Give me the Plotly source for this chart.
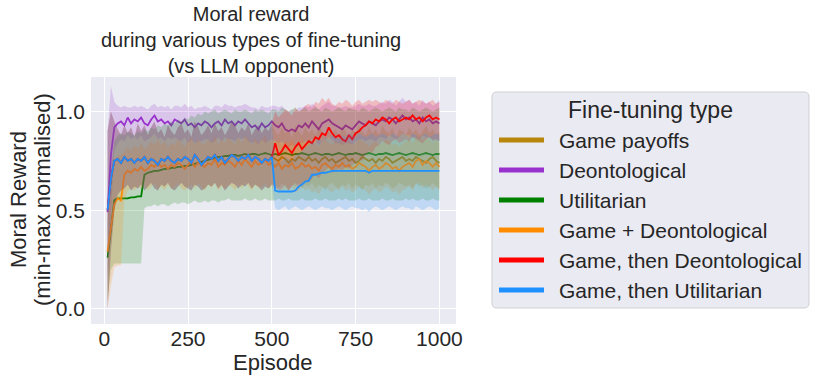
import plotly.graph_objects as go

# episode grid (every 10 episodes)
episodes = list(range(10, 1001, 10))

# first 500 episodes: game-payoff training, shared by the three game-based runs
game_phase_mean = [0.50, 0.66, 0.75, 0.76, 0.74, 0.77, 0.75, 0.76, 0.74, 0.76,
                   0.75, 0.77, 0.74, 0.76, 0.75, 0.73, 0.76, 0.75, 0.77, 0.75,
                   0.74, 0.76, 0.75, 0.77, 0.76, 0.74, 0.78, 0.76, 0.73, 0.75,
                   0.77, 0.76, 0.78, 0.75, 0.77, 0.74, 0.76, 0.78, 0.77, 0.75,
                   0.77, 0.76, 0.78, 0.75, 0.77, 0.76, 0.74, 0.76, 0.75, 0.77]
game_phase_lo = [0.00, 0.30, 0.50, 0.58, 0.60, 0.61, 0.63, 0.60, 0.62, 0.61,
                 0.63, 0.60, 0.62, 0.64, 0.61, 0.60, 0.63, 0.62, 0.64, 0.61,
                 0.60, 0.62, 0.64, 0.62, 0.61, 0.60, 0.63, 0.62, 0.60, 0.61,
                 0.63, 0.62, 0.64, 0.61, 0.63, 0.60, 0.62, 0.64, 0.63, 0.61,
                 0.63, 0.62, 0.64, 0.61, 0.63, 0.62, 0.60, 0.62, 0.61, 0.63]
game_phase_hi = [0.90, 1.00, 0.95, 0.91, 0.88, 0.93, 0.89, 0.92, 0.87, 0.94,
                 0.90, 0.93, 0.88, 0.92, 0.95, 0.89, 0.91, 0.87, 0.93, 0.90,
                 0.88, 0.92, 0.94, 0.89, 0.91, 0.87, 0.95, 0.92, 0.88, 0.90,
                 0.93, 0.89, 0.94, 0.90, 0.92, 0.88, 0.91, 0.95, 0.93, 0.89,
                 0.92, 0.90, 0.94, 0.88, 0.91, 0.93, 0.89, 0.92, 0.90, 0.94]

# episodes 510-1000 for each game-based run
payoffs_mean2 = [0.76, 0.75, 0.77, 0.76, 0.74, 0.76, 0.75, 0.77, 0.76, 0.75,
                 0.77, 0.75, 0.76, 0.74, 0.76, 0.77, 0.75, 0.76, 0.74, 0.75,
                 0.76, 0.77, 0.75, 0.76, 0.74, 0.75, 0.77, 0.76, 0.75, 0.76,
                 0.74, 0.76, 0.75, 0.77, 0.76, 0.74, 0.75, 0.76, 0.77, 0.75,
                 0.76, 0.75, 0.77, 0.76, 0.75, 0.74, 0.76, 0.77, 0.75, 0.74]
payoffs_lo2 = [0.63, 0.61, 0.64, 0.62, 0.60, 0.63, 0.62, 0.64, 0.61, 0.63,
               0.62, 0.64, 0.61, 0.63, 0.62, 0.60, 0.63, 0.64, 0.62, 0.61,
               0.63, 0.62, 0.64, 0.61, 0.63, 0.62, 0.60, 0.63, 0.62, 0.64,
               0.61, 0.63, 0.62, 0.64, 0.63, 0.61, 0.62, 0.64, 0.63, 0.62,
               0.63, 0.61, 0.64, 0.62, 0.63, 0.61, 0.62, 0.64, 0.62, 0.61]
payoffs_hi2 = [0.90, 0.88, 0.92, 0.89, 0.91, 0.87, 0.93, 0.90, 0.88, 0.92,
               0.89, 0.91, 0.88, 0.93, 0.90, 0.87, 0.92, 0.89, 0.91, 0.88,
               0.92, 0.90, 0.87, 0.91, 0.89, 0.93, 0.90, 0.88, 0.92, 0.89,
               0.91, 0.88, 0.93, 0.90, 0.89, 0.92, 0.87, 0.91, 0.90, 0.88,
               0.92, 0.89, 0.91, 0.88, 0.90, 0.93, 0.89, 0.91, 0.88, 0.90]

then_deont_mean2 = [0.84, 0.78, 0.80, 0.83, 0.81, 0.79, 0.82, 0.84, 0.81, 0.83,
                    0.85, 0.84, 0.87, 0.86, 0.89, 0.88, 0.92, 0.89, 0.87, 0.88,
                    0.86, 0.85, 0.88, 0.86, 0.89, 0.90, 0.92, 0.93, 0.95, 0.94,
                    0.96, 0.95, 0.97, 0.96, 0.94, 0.96, 0.97, 0.95, 0.96, 0.97,
                    0.96, 0.98, 0.96, 0.97, 0.95, 0.97, 0.98, 0.96, 0.97, 0.96]
then_deont_lo2 = [0.62, 0.60, 0.61, 0.63, 0.60, 0.62, 0.64, 0.61, 0.63, 0.65,
                  0.64, 0.66, 0.68, 0.66, 0.69, 0.70, 0.72, 0.69, 0.70, 0.71,
                  0.70, 0.72, 0.71, 0.73, 0.74, 0.76, 0.75, 0.78, 0.80, 0.79,
                  0.82, 0.83, 0.85, 0.84, 0.83, 0.85, 0.86, 0.84, 0.85, 0.86,
                  0.85, 0.87, 0.86, 0.85, 0.84, 0.86, 0.87, 0.85, 0.86, 0.85]
then_deont_hi2 = [1.00, 0.97, 0.99, 1.01, 1.00, 0.98, 1.02, 1.00, 1.01, 1.03,
                  1.04, 1.02, 1.05, 1.04, 1.07, 1.05, 1.07, 1.04, 1.03, 1.05,
                  1.04, 1.06, 1.05, 1.03, 1.05, 1.06, 1.04, 1.05, 1.06, 1.05,
                  1.06, 1.05, 1.04, 1.06, 1.05, 1.04, 1.06, 1.05, 1.04, 1.05,
                  1.06, 1.04, 1.05, 1.06, 1.05, 1.04, 1.05, 1.06, 1.04, 1.05]

then_util_mean2 = [0.60, 0.595, 0.595, 0.595, 0.595, 0.595, 0.60, 0.62, 0.63, 0.645,
                   0.65, 0.68, 0.68, 0.685, 0.69, 0.69, 0.695, 0.70, 0.70, 0.70,
                   0.70, 0.70, 0.70, 0.70, 0.70, 0.70, 0.70, 0.70, 0.69, 0.70,
                   0.70, 0.70, 0.70, 0.70, 0.70, 0.70, 0.70, 0.70, 0.70, 0.70,
                   0.70, 0.70, 0.70, 0.70, 0.70, 0.70, 0.70, 0.70, 0.70, 0.70]
then_util_lo2 = [0.51, 0.50, 0.51, 0.52, 0.50, 0.51, 0.52, 0.51, 0.50, 0.51,
                 0.52, 0.51, 0.50, 0.51, 0.52, 0.51, 0.51, 0.50, 0.51, 0.52,
                 0.51, 0.50, 0.51, 0.52, 0.51, 0.51, 0.50, 0.51, 0.49, 0.51,
                 0.52, 0.51, 0.50, 0.51, 0.52, 0.51, 0.50, 0.51, 0.52, 0.51,
                 0.51, 0.50, 0.52, 0.51, 0.50, 0.51, 0.52, 0.51, 0.50, 0.51]
then_util_hi2 = [0.76, 0.74, 0.75, 0.77, 0.76, 0.75, 0.78, 0.79, 0.80, 0.82,
                 0.83, 0.85, 0.84, 0.86, 0.85, 0.87, 0.86, 0.88, 0.87, 0.86,
                 0.88, 0.87, 0.89, 0.88, 0.87, 0.89, 0.88, 0.87, 0.88, 0.89,
                 0.87, 0.88, 0.89, 0.88, 0.87, 0.89, 0.88, 0.87, 0.89, 0.88,
                 0.87, 0.89, 0.88, 0.87, 0.88, 0.89, 0.87, 0.88, 0.89, 0.88]

deont_mean = [0.49, 0.78, 0.92, 0.94, 0.95, 0.93, 0.97, 0.94, 0.96, 0.95,
              0.97, 0.94, 0.93, 0.96, 0.98, 0.95, 0.96, 0.94, 0.95, 0.93,
              0.96, 0.95, 0.94, 0.96, 0.93, 0.94, 0.92, 0.94, 0.93, 0.95,
              0.94, 0.92, 0.94, 0.95, 0.93, 0.96, 0.94, 0.95, 0.93, 0.95,
              0.94, 0.96, 0.94, 0.92, 0.93, 0.91, 0.94, 0.92, 0.93, 0.95,
              0.93, 0.92, 0.94, 0.91, 0.90, 0.91, 0.90, 0.93, 0.92, 0.94,
              0.92, 0.95, 0.93, 0.91, 0.94, 0.95, 0.96, 0.94, 0.93, 0.92,
              0.91, 0.93, 0.92, 0.91, 0.93, 0.95, 0.94, 0.93, 0.95, 0.94,
              0.93, 0.95, 0.96, 0.95, 0.97, 0.96, 0.94, 0.96, 0.98, 0.96,
              0.97, 0.95, 0.96, 0.94, 0.97, 0.95, 0.96, 0.94, 0.95, 0.94]
deont_lo = [0.15, 0.50, 0.80, 0.84, 0.86, 0.85, 0.88, 0.86, 0.87, 0.86,
            0.88, 0.85, 0.86, 0.87, 0.89, 0.86, 0.87, 0.85, 0.87, 0.86,
            0.87, 0.86, 0.85, 0.87, 0.84, 0.86, 0.84, 0.85, 0.85, 0.86,
            0.86, 0.84, 0.85, 0.87, 0.85, 0.87, 0.86, 0.86, 0.85, 0.87,
            0.86, 0.87, 0.85, 0.84, 0.85, 0.83, 0.86, 0.84, 0.85, 0.86,
            0.85, 0.84, 0.85, 0.83, 0.82, 0.83, 0.82, 0.84, 0.84, 0.85,
            0.84, 0.86, 0.85, 0.83, 0.85, 0.86, 0.87, 0.86, 0.84, 0.84,
            0.83, 0.84, 0.84, 0.83, 0.85, 0.86, 0.86, 0.85, 0.86, 0.86,
            0.85, 0.87, 0.87, 0.86, 0.88, 0.87, 0.86, 0.87, 0.89, 0.88,
            0.88, 0.87, 0.87, 0.86, 0.88, 0.87, 0.87, 0.86, 0.86, 0.85]
deont_hi = [0.90, 1.13, 1.05, 1.03, 1.02, 1.03, 1.02, 1.02, 1.03, 1.02,
            1.03, 1.02, 1.01, 1.03, 1.04, 1.02, 1.03, 1.02, 1.03, 1.01,
            1.03, 1.03, 1.02, 1.04, 1.02, 1.03, 1.01, 1.02, 1.02, 1.03,
            1.02, 1.01, 1.03, 1.03, 1.02, 1.04, 1.03, 1.03, 1.02, 1.03,
            1.03, 1.04, 1.03, 1.02, 1.02, 1.01, 1.03, 1.02, 1.02, 1.03,
            1.03, 1.02, 1.03, 1.01, 1.00, 1.01, 1.00, 1.02, 1.02, 1.03,
            1.02, 1.04, 1.03, 1.01, 1.03, 1.04, 1.05, 1.03, 1.03, 1.02,
            1.02, 1.03, 1.02, 1.02, 1.03, 1.04, 1.03, 1.03, 1.04, 1.03,
            1.03, 1.04, 1.05, 1.04, 1.06, 1.05, 1.03, 1.05, 1.07, 1.05,
            1.06, 1.04, 1.05, 1.03, 1.06, 1.04, 1.05, 1.03, 1.04, 1.06]

util_mean = [0.26, 0.42, 0.55, 0.56, 0.56, 0.56, 0.56, 0.565, 0.565, 0.57,
             0.57, 0.68, 0.69, 0.695, 0.70, 0.70, 0.705, 0.71, 0.71, 0.715,
             0.715, 0.72, 0.72, 0.725, 0.725, 0.73, 0.735, 0.74, 0.745, 0.75,
             0.755, 0.76, 0.765, 0.77, 0.77, 0.775, 0.775, 0.78, 0.78, 0.775,
             0.78, 0.785, 0.78, 0.785, 0.785, 0.78, 0.785, 0.79, 0.785, 0.78,
             0.785, 0.78, 0.785, 0.79, 0.785, 0.78, 0.785, 0.785, 0.79, 0.785,
             0.78, 0.785, 0.79, 0.785, 0.78, 0.785, 0.785, 0.78, 0.785, 0.79,
             0.785, 0.78, 0.785, 0.785, 0.79, 0.785, 0.78, 0.785, 0.79, 0.785,
             0.78, 0.785, 0.785, 0.79, 0.785, 0.78, 0.785, 0.79, 0.785, 0.78,
             0.785, 0.79, 0.785, 0.78, 0.785, 0.79, 0.785, 0.78, 0.785, 0.785]
util_lo = [0.05, 0.20, 0.23, 0.23, 0.23, 0.23, 0.23, 0.23, 0.23, 0.23,
           0.23, 0.51, 0.52, 0.52, 0.53, 0.52, 0.53, 0.53, 0.52, 0.53,
           0.54, 0.53, 0.54, 0.54, 0.53, 0.54, 0.55, 0.54, 0.54, 0.55,
           0.54, 0.55, 0.55, 0.54, 0.55, 0.55, 0.56, 0.55, 0.55, 0.55,
           0.55, 0.56, 0.55, 0.55, 0.56, 0.55, 0.55, 0.56, 0.55, 0.55,
           0.55, 0.56, 0.55, 0.55, 0.56, 0.55, 0.55, 0.55, 0.56, 0.55,
           0.55, 0.55, 0.56, 0.55, 0.55, 0.56, 0.55, 0.55, 0.55, 0.56,
           0.55, 0.56, 0.55, 0.55, 0.55, 0.56, 0.55, 0.55, 0.56, 0.55,
           0.55, 0.55, 0.56, 0.55, 0.55, 0.56, 0.55, 0.55, 0.55, 0.56,
           0.55, 0.56, 0.55, 0.55, 0.56, 0.55, 0.55, 0.56, 0.55, 0.55]
util_hi = [0.45, 0.70, 0.85, 0.88, 0.89, 0.88, 0.90, 0.89, 0.88, 0.90,
           0.89, 0.91, 0.90, 0.92, 0.91, 0.93, 0.92, 0.94, 0.93, 0.95,
           0.94, 0.96, 0.95, 0.97, 0.96, 0.98, 0.97, 0.99, 0.98, 1.00,
           0.99, 1.00, 1.01, 0.99, 1.00, 1.01, 1.00, 0.99, 1.01, 1.00,
           1.00, 1.01, 1.00, 0.99, 1.01, 1.00, 1.01, 1.00, 0.99, 1.01,
           1.01, 1.00, 1.02, 1.01, 1.00, 1.01, 1.02, 1.00, 1.01, 1.02,
           1.00, 1.01, 1.02, 1.01, 1.00, 1.02, 1.01, 1.00, 1.01, 1.02,
           1.01, 1.00, 1.02, 1.01, 1.01, 1.00, 1.02, 1.01, 1.00, 1.01,
           1.02, 1.01, 1.00, 1.01, 1.02, 1.01, 1.00, 1.02, 1.01, 1.01,
           1.00, 1.02, 1.01, 1.00, 1.01, 1.02, 1.01, 1.00, 1.01, 1.02]

game_deont_mean = [0.29, 0.42, 0.53, 0.56, 0.55, 0.68, 0.70, 0.69, 0.71, 0.70,
                   0.72, 0.70, 0.71, 0.73, 0.72, 0.74, 0.72, 0.73, 0.71, 0.73,
                   0.72, 0.74, 0.73, 0.71, 0.73, 0.75, 0.72, 0.74, 0.73, 0.72,
                   0.74, 0.73, 0.76, 0.72, 0.74, 0.73, 0.75, 0.74, 0.72, 0.75,
                   0.73, 0.76, 0.74, 0.72, 0.75, 0.73, 0.74, 0.76, 0.73, 0.74,
                   0.72, 0.74, 0.71, 0.73, 0.72, 0.74, 0.71, 0.72, 0.74, 0.72,
                   0.73, 0.71, 0.72, 0.70, 0.73, 0.74, 0.72, 0.71, 0.73, 0.72,
                   0.74, 0.72, 0.73, 0.71, 0.72, 0.74, 0.73, 0.72, 0.70, 0.72,
                   0.73, 0.71, 0.72, 0.74, 0.73, 0.71, 0.72, 0.70, 0.72, 0.73,
                   0.74, 0.72, 0.75, 0.76, 0.73, 0.75, 0.74, 0.72, 0.74, 0.72]
game_deont_lo = [0.00, 0.12, 0.21, 0.22, 0.22, 0.55, 0.60, 0.61, 0.60, 0.62,
                 0.61, 0.63, 0.60, 0.62, 0.64, 0.61, 0.62, 0.60, 0.63, 0.61,
                 0.62, 0.64, 0.61, 0.60, 0.62, 0.63, 0.61, 0.64, 0.62, 0.60,
                 0.63, 0.61, 0.64, 0.60, 0.62, 0.61, 0.63, 0.62, 0.60, 0.63,
                 0.61, 0.64, 0.62, 0.60, 0.63, 0.61, 0.62, 0.64, 0.61, 0.62,
                 0.60, 0.62, 0.59, 0.61, 0.60, 0.62, 0.59, 0.60, 0.62, 0.60,
                 0.61, 0.59, 0.60, 0.58, 0.61, 0.62, 0.60, 0.59, 0.61, 0.60,
                 0.62, 0.60, 0.61, 0.59, 0.60, 0.62, 0.61, 0.60, 0.58, 0.60,
                 0.61, 0.59, 0.60, 0.62, 0.61, 0.59, 0.60, 0.58, 0.60, 0.61,
                 0.62, 0.60, 0.63, 0.64, 0.61, 0.63, 0.62, 0.60, 0.62, 0.60]
game_deont_hi = [0.55, 0.68, 0.75, 0.78, 0.78, 0.80, 0.82, 0.80, 0.83, 0.81,
                 0.84, 0.81, 0.82, 0.85, 0.83, 0.86, 0.83, 0.85, 0.82, 0.84,
                 0.83, 0.86, 0.84, 0.82, 0.85, 0.87, 0.83, 0.86, 0.84, 0.83,
                 0.86, 0.84, 0.88, 0.83, 0.86, 0.84, 0.87, 0.85, 0.83, 0.87,
                 0.84, 0.88, 0.86, 0.83, 0.87, 0.84, 0.86, 0.88, 0.84, 0.86,
                 0.84, 0.86, 0.83, 0.85, 0.84, 0.86, 0.83, 0.84, 0.86, 0.84,
                 0.85, 0.83, 0.84, 0.82, 0.85, 0.86, 0.84, 0.83, 0.85, 0.84,
                 0.86, 0.84, 0.85, 0.83, 0.84, 0.86, 0.85, 0.84, 0.82, 0.84,
                 0.85, 0.83, 0.84, 0.86, 0.85, 0.83, 0.84, 0.82, 0.84, 0.85,
                 0.86, 0.84, 0.87, 0.88, 0.85, 0.87, 0.86, 0.84, 0.86, 0.84]

labels = ["Game payoffs", "Deontological", "Utilitarian", "Game + Deontological",
          "Game, then Deontological", "Game, then Utilitarian"]
colors = ["#B8860B", "#9932CC", "#008000", "#FF8C00", "#FF0000", "#1E90FF"]

series = [
    (game_phase_mean + payoffs_mean2, game_phase_lo + payoffs_lo2, game_phase_hi + payoffs_hi2),
    (deont_mean, deont_lo, deont_hi),
    (util_mean, util_lo, util_hi),
    (game_deont_mean, game_deont_lo, game_deont_hi),
    (game_phase_mean + then_deont_mean2, game_phase_lo + then_deont_lo2, game_phase_hi + then_deont_hi2),
    (game_phase_mean + then_util_mean2, game_phase_lo + then_util_lo2, game_phase_hi + then_util_hi2),
]


def rgba(hex_color, a):
    h = hex_color.lstrip("#")
    return "rgba(%d,%d,%d,%.2f)" % (int(h[0:2], 16), int(h[2:4], 16), int(h[4:6], 16), a)


fig = go.Figure()
for (mean, lo, hi), name, col in zip(series, labels, colors):
    fig.add_trace(go.Scatter(x=episodes, y=lo, mode="lines", line=dict(width=0),
                             showlegend=False, hoverinfo="skip"))
    fig.add_trace(go.Scatter(x=episodes, y=hi, mode="lines", line=dict(width=0),
                             fill="tonexty", fillcolor=rgba(col, 0.2),
                             showlegend=False, hoverinfo="skip"))
    fig.add_trace(go.Scatter(x=episodes, y=mean, mode="lines", name=name,
                             line=dict(color=col, width=1.8), showlegend=False))

# plot area in pixels: x 91..456, y 77..324
PL, PR, PT, PB = 91, 456, 77, 324


def px(x):
    return (x - PL) / (PR - PL)


def py(y):
    return (PB - y) / (PB - PT)


FONT = "Liberation Sans, Arial, Helvetica, sans-serif"
TXT = "#262626"

annotations = [dict(text="Moral reward<br>during various types of fine-tuning<br>(vs LLM opponent)",
                    x=px(251), y=py(40), xref="paper", yref="paper",
                    showarrow=False, xanchor="center", yanchor="middle",
                    font=dict(size=20, color=TXT))]
for text, xx in [("Moral Reward", 18), ("(min-max normalised)", 42)]:
    annotations.append(dict(text=text, x=px(xx), y=py(200), xref="paper", yref="paper",
                            showarrow=False, xanchor="center", yanchor="middle",
                            textangle=-90, font=dict(size=22, color=TXT)))
annotations.append(dict(text="Episode", x=px(273), y=py(362), xref="paper", yref="paper",
                        showarrow=False, xanchor="center", yanchor="middle",
                        font=dict(size=22, color=TXT)))

# legend drawn by hand to match the wide swatches
shapes = []
lx0, ly0, lx1, ly1, r = 492, 92, 809, 308, 5
path = ("M %f,%f L %f,%f Q %f,%f %f,%f L %f,%f Q %f,%f %f,%f L %f,%f Q %f,%f %f,%f "
        "L %f,%f Q %f,%f %f,%f Z") % (
    px(lx0 + r), py(ly0), px(lx1 - r), py(ly0), px(lx1), py(ly0), px(lx1), py(ly0 + r),
    px(lx1), py(ly1 - r), px(lx1), py(ly1), px(lx1 - r), py(ly1),
    px(lx0 + r), py(ly1), px(lx0), py(ly1), px(lx0), py(ly1 - r),
    px(lx0), py(ly0 + r), px(lx0), py(ly0), px(lx0 + r), py(ly0))
shapes.append(dict(type="path", path=path, xref="paper", yref="paper",
                   fillcolor="#EAEAF2", line=dict(color="#CFCFD6", width=1), layer="below"))
annotations.append(dict(text="Fine-tuning type", x=px(650), y=py(110), xref="paper", yref="paper",
                        showarrow=False, xanchor="center", yanchor="middle",
                        font=dict(size=23, color=TXT)))
for i, (name, col) in enumerate(zip(labels, colors)):
    yy = 140 + 30 * i
    shapes.append(dict(type="line", xref="paper", yref="paper", x0=px(499), x1=px(544),
                       y0=py(yy), y1=py(yy), line=dict(color=col, width=5)))
    annotations.append(dict(text=name, x=px(557), y=py(yy), xref="paper", yref="paper",
                            showarrow=False, xanchor="left", yanchor="middle",
                            font=dict(size=21, color=TXT)))

fig.update_layout(
    width=814, height=380,
    margin=dict(l=PL, r=814 - PR, t=PT, b=380 - PB),
    paper_bgcolor="white", plot_bgcolor="#EAEAF2",
    font=dict(family=FONT, color=TXT, size=21),
    showlegend=False,
    annotations=annotations, shapes=shapes,
    xaxis=dict(range=[-39.5, 1049.5], tickvals=[0, 250, 500, 750, 1000],
               showgrid=True, gridcolor="white", gridwidth=1.3, zeroline=False,
               showline=False, ticks="", tickfont=dict(size=21)),
    yaxis=dict(range=[-0.076, 1.175], tickvals=[0.0, 0.5, 1.0], tickformat=".1f",
               showgrid=True, gridcolor="white", gridwidth=1.3, zeroline=False,
               showline=False, ticks="", tickfont=dict(size=21), ticklabelstandoff=5),
)

# page body margin would shift the figure by 8px
fig.write_html("out.html", config={"displayModeBar": False},
               post_script="document.body.style.margin='0px';")
